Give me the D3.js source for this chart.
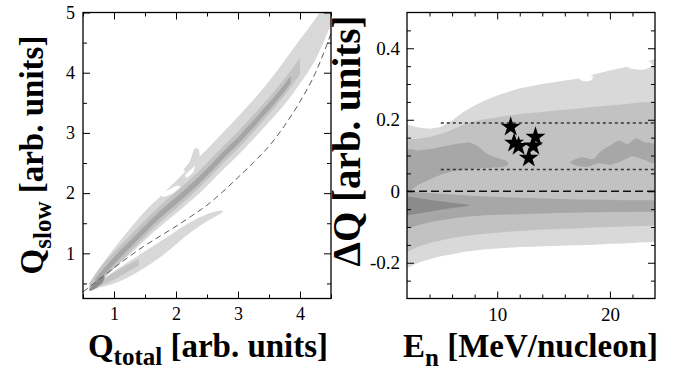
<!DOCTYPE html>
<html><head><meta charset="utf-8">
<script src="https://cdn.jsdelivr.net/npm/d3@7"></script>
<style>
body{margin:0;background:#fff}
svg{display:block}
svg text{font-family:"Liberation Serif","Times New Roman","DejaVu Serif",serif;}
</style>
</head><body>
<svg id="chart" width="681" height="372"></svg>
<script>
// ---------------- LEFT PANEL DATA (Q_total vs Q_slow) ----------------
const qGrid      = [0.6,0.8,1.0,1.25,1.5,1.75,2.0,2.25,2.5,2.75,3.0,3.25,3.5,3.75,4.0,4.25,4.5];
const mainL1Hi   = [0.5,0.8,1.08,1.4,1.7,1.95,2.2,2.47,2.73,3.0,3.27,3.55,3.86,4.2,4.55,4.9,5.3];
const mainL1Lo   = [0.38,0.56,0.75,0.98,1.22,1.45,1.66,1.88,2.12,2.38,2.63,2.9,3.18,3.47,3.82,4.22,4.8];
const mainL2X    = [0.6,0.8,1.0,1.25,1.5,1.75,2.0,2.25,2.5,2.75,3.0,3.25,3.5,3.75,4.0];
const mainL2Hi   = [0.5,0.8,1.02,1.29,1.55,1.8,2.02,2.25,2.5,2.77,3.02,3.3,3.59,3.9,4.25];
const mainL2Lo   = [0.38,0.56,0.75,1.01,1.27,1.52,1.74,1.97,2.22,2.49,2.74,3.02,3.31,3.62,3.97];
const mainL3X    = [0.7,1.0,1.25,1.5,1.75,2.0,2.25,2.5,2.75,3.0,3.25,3.5,3.75,3.85];
const mainL3Hi   = [0.58,0.94,1.2,1.46,1.71,1.93,2.16,2.41,2.68,2.93,3.21,3.5,3.81,3.95];
const mainL3Lo   = [0.48,0.82,1.08,1.34,1.59,1.81,2.04,2.29,2.56,2.81,3.09,3.38,3.69,3.83];
const gammaX     = [0.62,0.8,1.0,1.3,1.6,1.9,2.2,2.45,2.65,2.75];
const gammaHi    = [0.42,0.56,0.7,0.9,1.1,1.3,1.5,1.63,1.7,1.71];
const gammaLo    = [0.38,0.44,0.5,0.64,0.83,1.06,1.32,1.5,1.62,1.68];
const gammaL2X   = [0.62,0.8,1.0,1.2,1.4];
const gammaL2Hi  = [0.42,0.55,0.68,0.8,0.9];
const gammaL2Lo  = [0.39,0.47,0.56,0.68,0.8];
const originL4X  = [0.6,0.68,0.78,0.85,0.82,0.72,0.63];
const originL4Y  = [0.4,0.5,0.6,0.62,0.52,0.43,0.38];
const spurX      = [2.12,2.22,2.3,2.37,2.38,2.34,2.26];
const spurY      = [2.38,2.52,2.74,2.72,2.55,2.42,2.36];
const hole1X     = [1.75,1.85,2.0,2.07,1.95,1.8];
const hole1Y     = [1.98,2.04,2.12,2.1,2.0,1.94];
const hole2X     = [2.15,2.25,2.3,2.28,2.18];
const hole2Y     = [2.3,2.4,2.45,2.35,2.26];
const dashX      = [0.5,0.75,1.0,1.25,1.5,1.75,2.0,2.25,2.5,2.75,3.0,3.25,3.5,3.75,4.0,4.25,4.5];
const dashY      = [0.36,0.56,0.76,0.95,1.13,1.29,1.45,1.62,1.8,2.02,2.26,2.51,2.78,3.12,3.52,4.0,4.65];
const lxTicks = [1,2,3,4], lxTickLabels = ["1","2","3","4"];
const lxMinor = [0.5,1.5,2.5,3.5,4.5];
const lyTicks = [1,2,3,4,5], lyTickLabels = ["1","2","3","4","5"];
const lyMinor = [0.5,1.5,2.5,3.5,4.5];

// ---------------- RIGHT PANEL DATA (E_n vs dQ) ----------------
const enGrid = [2,3,4,5,6,7,8,9,10,11,12,13,14,15,16,17,18,19,20,21,22,23,24];
const dqL1Hi = [0.187,0.178,0.175,0.18,0.198,0.222,0.24,0.255,0.268,0.278,0.288,0.294,0.3,0.305,0.31,0.314,0.322,0.33,0.338,0.345,0.352,0.36,0.37];
const dqL1Lo = [-0.215,-0.2,-0.19,-0.182,-0.176,-0.17,-0.166,-0.162,-0.16,-0.158,-0.156,-0.155,-0.154,-0.153,-0.152,-0.151,-0.15,-0.149,-0.147,-0.146,-0.145,-0.143,-0.142];
const dqL2Hi = [0.145,0.147,0.152,0.16,0.172,0.186,0.196,0.202,0.207,0.212,0.216,0.219,0.222,0.225,0.228,0.231,0.234,0.237,0.24,0.243,0.246,0.249,0.25];
const dqL2Lo = [-0.17,-0.155,-0.145,-0.138,-0.131,-0.126,-0.122,-0.119,-0.116,-0.113,-0.111,-0.109,-0.107,-0.106,-0.105,-0.104,-0.102,-0.101,-0.1,-0.099,-0.098,-0.097,-0.096];
const dqL3Hi = [0.0,-0.003,-0.005,-0.007,-0.009,-0.011,-0.013,-0.015,-0.016,-0.017,-0.018,-0.019,-0.02,-0.021,-0.022,-0.023,-0.023,-0.024,-0.024,-0.025,-0.025,-0.025,-0.025];
const dqL3Lo = [-0.105,-0.095,-0.087,-0.081,-0.076,-0.072,-0.069,-0.067,-0.066,-0.065,-0.064,-0.063,-0.062,-0.061,-0.06,-0.06,-0.059,-0.059,-0.058,-0.058,-0.057,-0.057,-0.057];
const wedgeE  = [2,3,4,5,6,7,7.6];
const wedgeHi = [-0.014,-0.019,-0.024,-0.028,-0.032,-0.036,-0.039];
const wedgeLo = [-0.068,-0.062,-0.057,-0.052,-0.047,-0.043,-0.04];
const blobAE  = [2,3,4,5,6,7,7.6,8.2,8.8,9.3,9.8,10.3,10.8,11.0,10.5,9.5,8.5,7.0,6.0,5.0,4.0,3.0,2.0];
const blobADQ = [0.112,0.114,0.118,0.124,0.13,0.135,0.136,0.128,0.112,0.102,0.096,0.09,0.085,0.075,0.068,0.066,0.064,0.06,0.055,0.046,0.033,0.018,0.003];
const blobBE  = [16.5,17.5,18.5,19.2,20,20.8,21.6,22.3,23,24,24,23,22,21,20,19,18,17];
const blobBDQ = [0.082,0.095,0.09,0.112,0.128,0.142,0.132,0.148,0.138,0.13,0.08,0.088,0.098,0.084,0.074,0.078,0.068,0.072];
const holeR1E  = [17.2,17.8,18.5,18.3,17.6];
const holeR1DQ = [0.318,0.326,0.322,0.31,0.308];
const holeR2E  = [21.4,22.2,23.2,23.8,23.0,22.0];
const holeR2DQ = [0.352,0.362,0.368,0.352,0.34,0.342];
const starE  = [11.2,11.5,11.9,13.4,13.2,12.8];
const starDQ = [0.18,0.135,0.126,0.152,0.127,0.093];
const dottedLevels = [0.191,0.061], dottedStartE = 5;
const rxTicks = [10,20], rxTickLabels = ["10","20"];
const rxMinor = [4,6,8,12,14,16,18,22];
const ryTicks = [-0.2,0,0.2,0.4], ryTickLabels = ["-0.2","0","0.2","0.4"];
const ryMinor = [-0.25,-0.15,-0.1,-0.05,0.05,0.1,0.15,0.25,0.3,0.35,0.45];

// ---------------- DRAWING ----------------
const FONT = '"Liberation Serif","Times New Roman","DejaVu Serif",serif';
const svg = d3.select("#chart");
const plotTop = 12.5, plotBot = 298.5;
const xL = d3.scaleLinear().domain([0.5,4.5]).range([83,331]);
const yL = d3.scaleLinear().domain([0.25,5]).range([plotBot,plotTop]);
const xR = d3.scaleLinear().domain([2,24]).range([407,655]);
const yR = d3.scaleLinear().domain([-0.3,0.5]).range([plotBot,plotTop]);

const defs = svg.append("defs");
function clip(id, x, y) {
  defs.append("clipPath").attr("id", id).append("rect")
    .attr("x", x.range()[0]).attr("y", y.range()[1])
    .attr("width", x.range()[1]-x.range()[0]).attr("height", y.range()[0]-y.range()[1]);
}
clip("clipL", xL, yL); clip("clipR", xR, yR);

const gL = svg.append("g").attr("clip-path","url(#clipL)");
const gR = svg.append("g").attr("clip-path","url(#clipR)");

function band(g, x, y, xs, hi, lo, fill, curve) {
  const data = xs.map((v,i)=>({x:v, hi:hi[i], lo:lo[i]}));
  g.append("path").datum(data).attr("fill", fill).attr("stroke","none")
    .attr("d", d3.area().x(d=>x(d.x)).y0(d=>y(d.lo)).y1(d=>y(d.hi)).curve(curve||d3.curveMonotoneX));
}
function poly(g, x, y, xs, ys, fill) {
  const data = xs.map((v,i)=>[v, ys[i]]);
  g.append("path").datum(data).attr("fill", fill).attr("stroke","none")
    .attr("d", d3.line().x(d=>x(d[0])).y(d=>y(d[1])).curve(d3.curveCardinalClosed.tension(0.3)));
}

// left panel greys
const LC = ["#d8d8d8","#c3c3c3","#a6a6a6","#8c8c8c"];
band(gL, xL, yL, gammaX, gammaHi, gammaLo, LC[0]);
band(gL, xL, yL, qGrid, mainL1Hi, mainL1Lo, LC[0]);
poly(gL, xL, yL, spurX, spurY, LC[0]);
poly(gL, xL, yL, hole1X, hole1Y, "#ffffff");
poly(gL, xL, yL, hole2X, hole2Y, "#ffffff");
band(gL, xL, yL, gammaL2X, gammaL2Hi, gammaL2Lo, LC[1]);
band(gL, xL, yL, mainL2X, mainL2Hi, mainL2Lo, LC[1]);
band(gL, xL, yL, mainL3X, mainL3Hi, mainL3Lo, LC[2]);
poly(gL, xL, yL, originL4X, originL4Y, LC[3]);
gL.append("path").datum(dashX.map((v,i)=>[v,dashY[i]]))
  .attr("fill","none").attr("stroke","#5a5a5a").attr("stroke-width",1)
  .attr("stroke-dasharray","6,4")
  .attr("d", d3.line().x(d=>xL(d[0])).y(d=>yL(d[1])).curve(d3.curveMonotoneX));

// right panel greys
const RC = ["#d9d9d9","#c2c2c2","#a7a7a7","#8b8b8b"];
band(gR, xR, yR, enGrid, dqL1Hi, dqL1Lo, RC[0], d3.curveLinear);
poly(gR, xR, yR, holeR1E, holeR1DQ, "#ffffff");
poly(gR, xR, yR, holeR2E, holeR2DQ, "#ffffff");
band(gR, xR, yR, enGrid, dqL2Hi, dqL2Lo, RC[1], d3.curveLinear);
poly(gR, xR, yR, blobAE, blobADQ, RC[2]);
poly(gR, xR, yR, blobBE, blobBDQ, RC[2]);
band(gR, xR, yR, enGrid, dqL3Hi, dqL3Lo, RC[2], d3.curveLinear);
band(gR, xR, yR, wedgeE, wedgeHi, wedgeLo, RC[3], d3.curveLinear);

dottedLevels.forEach(v => {
  gR.append("line").attr("x1", xR(dottedStartE)).attr("x2", xR(24))
    .attr("y1", yR(v)).attr("y2", yR(v))
    .attr("stroke","#333").attr("stroke-width",1.6).attr("stroke-dasharray","3,3");
});
gR.append("line").attr("x1", xR(2)).attr("x2", xR(24)).attr("y1", yR(0)).attr("y2", yR(0))
  .attr("stroke","#111").attr("stroke-width",1.6).attr("stroke-dasharray","8,4");

gR.selectAll("path.star").data(starE.map((e,i)=>({e, q:starDQ[i]}))).enter()
  .append("path").attr("class","star")
  .attr("transform", d=>`translate(${xR(d.e)},${yR(d.q)})`)
  .attr("d", d3.symbol().type(d3.symbolStar).size(125)())
  .attr("fill","#000");

// axes
function styleAxis(sel, fs) {
  sel.select(".domain").remove();
  sel.selectAll("line").attr("stroke","#000").attr("stroke-width",1);
  sel.attr("font-family", FONT).attr("font-size", fs);
  sel.selectAll("text").attr("fill","#000").style("font-family", FONT).style("font-size", fs+"px");
}
function axes(x, y, o) {
  const [x0,x1] = x.range(), [y1,y0] = y.range();
  const g = svg.append("g");
  const fmt = (vals, labels) => (d => labels[vals.indexOf(d)]);
  g.append("g").attr("transform",`translate(0,${y1})`)
    .call(d3.axisBottom(x).tickValues(o.xt).tickFormat(fmt(o.xt,o.xl)).tickSizeInner(-7).tickSizeOuter(0).tickPadding(o.xpad))
    .call(s=>styleAxis(s,o.fs));
  g.append("g").attr("transform",`translate(0,${y1})`)
    .call(d3.axisBottom(x).tickValues(o.xm).tickFormat("").tickSizeInner(-4).tickSizeOuter(0)).call(s=>styleAxis(s,o.fs));
  g.append("g").attr("transform",`translate(0,${y0})`)
    .call(d3.axisTop(x).tickValues(o.xt).tickFormat("").tickSizeInner(-7).tickSizeOuter(0)).call(s=>styleAxis(s,o.fs));
  g.append("g").attr("transform",`translate(0,${y0})`)
    .call(d3.axisTop(x).tickValues(o.xm).tickFormat("").tickSizeInner(-4).tickSizeOuter(0)).call(s=>styleAxis(s,o.fs));
  g.append("g").attr("transform",`translate(${x0},0)`)
    .call(d3.axisLeft(y).tickValues(o.yt).tickFormat(fmt(o.yt,o.yl)).tickSizeInner(-7).tickSizeOuter(0).tickPadding(o.ypad))
    .call(s=>styleAxis(s,o.fs));
  g.append("g").attr("transform",`translate(${x0},0)`)
    .call(d3.axisLeft(y).tickValues(o.ym).tickFormat("").tickSizeInner(-4).tickSizeOuter(0)).call(s=>styleAxis(s,o.fs));
  g.append("g").attr("transform",`translate(${x1},0)`)
    .call(d3.axisRight(y).tickValues(o.yt).tickFormat("").tickSizeInner(-7).tickSizeOuter(0)).call(s=>styleAxis(s,o.fs));
  g.append("g").attr("transform",`translate(${x1},0)`)
    .call(d3.axisRight(y).tickValues(o.ym).tickFormat("").tickSizeInner(-4).tickSizeOuter(0)).call(s=>styleAxis(s,o.fs));
  g.append("rect").attr("x",x0).attr("y",y0).attr("width",x1-x0).attr("height",y1-y0)
    .attr("fill","none").attr("stroke","#000").attr("stroke-width",1.3);
}
axes(xL, yL, {xt:lxTicks, xl:lxTickLabels, xm:lxMinor, yt:lyTicks, yl:lyTickLabels, ym:lyMinor, xpad:9, ypad:8, fs:18});
axes(xR, yR, {xt:rxTicks, xl:rxTickLabels, xm:rxMinor, yt:ryTicks, yl:ryTickLabels, ym:ryMinor, xpad:9, ypad:7, fs:19});

// titles
function title(x, y, rot, parts, anchor) {
  const t = svg.append("text").style("font-family", FONT).attr("font-weight","bold")
    .attr("fill","#000").attr("text-anchor", anchor||"middle")
    .attr("transform", `translate(${x},${y})` + (rot ? ` rotate(${rot})` : ""));
  parts.forEach(p => t.append("tspan").attr("font-size", p.fs).attr("dy", p.dy||0).text(p.t));
}
title(208, 357, 0, [{t:"Q", fs:33},{t:"total", fs:25, dy:8},{t:" [arb. units]", fs:33, dy:-8}]);
title(42.5, 155, -90, [{t:"Q", fs:33},{t:"slow", fs:25, dy:8},{t:" [arb. units]", fs:33, dy:-8}]);
title(530.5, 357, 0, [{t:"E", fs:33},{t:"n", fs:25, dy:9},{t:" [MeV/nucleon]", fs:33, dy:-9}]);
title(360, 141, -90, [{t:"ΔQ [arb. units]", fs:39}]);
</script>
</body></html>
